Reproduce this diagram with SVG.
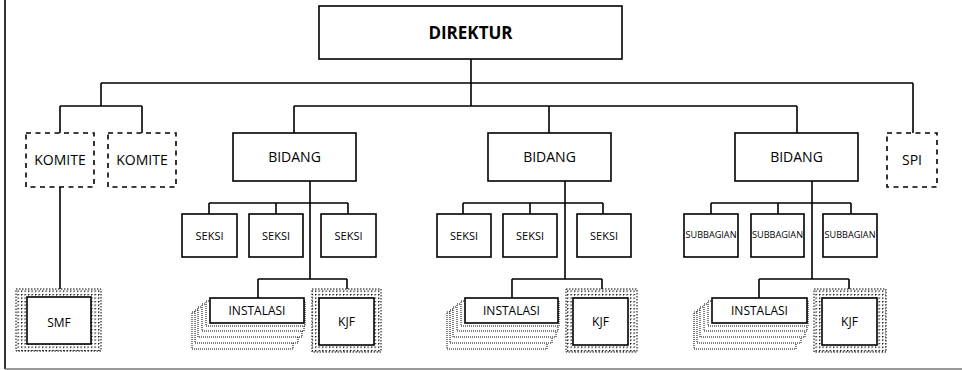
<svg xmlns="http://www.w3.org/2000/svg" width="962" height="370" viewBox="0 0 962 370">
<style>
.box{fill:#fff;stroke:#000;stroke-width:1.6}
.dash{fill:#fff;stroke:#000;stroke-width:1.6;stroke-dasharray:5 4.5}
.ln{fill:none;stroke:#000;stroke-width:1.6}
.stk{fill:#fff;stroke:#000;stroke-width:1;stroke-dasharray:1 1}
.hat{fill:url(#hatch);stroke:#000;stroke-width:1;stroke-dasharray:1.5 1.5}
text{font-family:"Open Sans","Noto Sans",sans-serif;fill:#000;text-anchor:middle}
.t14{font-size:14px}
.t11{font-size:11px}
.t12{font-size:12px}
.t9{font-size:8.5px}
</style>
<defs>
<pattern id="hatch" patternUnits="userSpaceOnUse" width="3.5" height="3.5">
<rect width="3.5" height="3.5" fill="#fff"/>
<rect x="0" y="0" width="1.8" height="0.6" fill="#000"/>
<rect x="0" y="0" width="0.6" height="1.8" fill="#000"/>
</pattern>
</defs>
<rect width="962" height="370" fill="#fff"/>
<g id="frame">
<line x1="5" y1="0" x2="5" y2="369" stroke="#000" stroke-width="1.6"/>
<line x1="5" y1="369" x2="962" y2="369" stroke="#777" stroke-width="1.6"/>
</g>
<g id="connectors">
<path class="ln" d="M471 59V106M101 83H913M294 106H797M294 106V133M549 106V133M797 106V133M913 83V133"/>
<path class="ln" d="M101 83V106M60 106H142M60 106V133M142 106V133M60 187V297"/>
<path class="ln" d="M310 181V279M209 203H348M209 203V214M276 203V214M348 203V214M258 279H347M258 279V298M347 279V298"/>
<path class="ln" d="M565 181V279M463 203H603M463 203V214M530 203V214M603 203V214M512 279H602M512 279V298M602 279V298"/>
<path class="ln" d="M812 181V279M711 203H851M711 203V214M778 203V214M851 203V214M759 279H849M759 279V298M849 279V298"/>
</g>
<g id="direktur"><rect class="box" x="319" y="6" width="303" height="53"/><text x="470.5" y="39" style="font-size:17px;font-weight:bold">DIREKTUR</text></g>
<g id="komite1"><rect class="dash" x="26" y="133" width="68" height="54"/><text class="t14" x="60" y="165">KOMITE</text></g>
<g id="komite2"><rect class="dash" x="108" y="133" width="68" height="54"/><text class="t14" x="142" y="165">KOMITE</text></g>
<g id="spi"><rect class="dash" x="887" y="133" width="50" height="54"/><text class="t14" x="912" y="165">SPI</text></g>
<g id="smf"><rect class="hat" x="16" y="289" width="85" height="62"/><rect class="box" x="27" y="297" width="64" height="47"/><text class="t12" x="59" y="327">SMF</text></g>
<g id="bidang1"><rect class="box" x="233" y="133" width="123" height="48"/><text class="t14" x="294.5" y="162">BIDANG</text></g>
<g id="bidang2"><rect class="box" x="488" y="133" width="123" height="48"/><text class="t14" x="549.5" y="162">BIDANG</text></g>
<g id="bidang3"><rect class="box" x="735" y="133" width="123" height="48"/><text class="t14" x="796.5" y="162">BIDANG</text></g>
<g id="seksi1a"><rect class="box" x="182" y="214" width="55" height="43"/><text class="t11" x="209.5" y="240">SEKSI</text></g>
<g id="seksi1b"><rect class="box" x="249" y="214" width="54" height="43"/><text class="t11" x="276" y="240">SEKSI</text></g>
<g id="seksi1c"><rect class="box" x="321" y="214" width="55" height="43"/><text class="t11" x="348.5" y="240">SEKSI</text></g>
<g id="seksi2a"><rect class="box" x="437" y="214" width="54" height="43"/><text class="t11" x="464" y="240">SEKSI</text></g>
<g id="seksi2b"><rect class="box" x="503" y="214" width="54" height="43"/><text class="t11" x="530" y="240">SEKSI</text></g>
<g id="seksi2c"><rect class="box" x="577" y="214" width="54" height="43"/><text class="t11" x="604" y="240">SEKSI</text></g>
<g id="sub3a"><rect class="box" x="684" y="214" width="54" height="43"/><text class="t9" x="711" y="238" textLength="51" lengthAdjust="spacingAndGlyphs">SUBBAGIAN</text></g>
<g id="sub3b"><rect class="box" x="751" y="214" width="53" height="43"/><text class="t9" x="777.5" y="238" textLength="51" lengthAdjust="spacingAndGlyphs">SUBBAGIAN</text></g>
<g id="sub3c"><rect class="box" x="823" y="214" width="54" height="43"/><text class="t9" x="850" y="238" textLength="51" lengthAdjust="spacingAndGlyphs">SUBBAGIAN</text></g>
<g id="instalasi1">
<rect class="stk" x="192" y="312" width="101" height="37"/>
<rect class="stk" x="195" y="310" width="103" height="33"/>
<rect class="stk" x="198" y="307" width="104" height="30"/>
<rect class="stk" x="202" y="304" width="102" height="27"/>
<rect class="stk" x="206" y="301" width="99" height="25"/>
<rect class="box" x="210" y="298" width="94" height="25"/><text class="t12" x="257" y="315">INSTALASI</text></g>
<g id="kjf1"><rect class="hat" x="312" y="289" width="69" height="63"/><rect class="box" x="319" y="298" width="55" height="47"/><text class="t12" x="346.5" y="326">KJF</text></g>
<g id="instalasi2">
<rect class="stk" x="447" y="312" width="100" height="37"/>
<rect class="stk" x="450" y="310" width="102" height="33"/>
<rect class="stk" x="453" y="307" width="103" height="30"/>
<rect class="stk" x="457" y="304" width="101" height="27"/>
<rect class="stk" x="461" y="301" width="98" height="25"/>
<rect class="box" x="465" y="298" width="93" height="25"/><text class="t12" x="511.5" y="315">INSTALASI</text></g>
<g id="kjf2"><rect class="hat" x="566" y="289" width="71" height="63"/><rect class="box" x="573" y="298" width="55" height="47"/><text class="t12" x="600.5" y="326">KJF</text></g>
<g id="instalasi3">
<rect class="stk" x="694" y="312" width="102" height="37"/>
<rect class="stk" x="697" y="310" width="104" height="33"/>
<rect class="stk" x="700" y="307" width="105" height="30"/>
<rect class="stk" x="704" y="304" width="103" height="27"/>
<rect class="stk" x="708" y="301" width="100" height="25"/>
<rect class="box" x="712" y="298" width="95" height="25"/><text class="t12" x="759.5" y="315">INSTALASI</text></g>
<g id="kjf3"><rect class="hat" x="814" y="289" width="72" height="63"/><rect class="box" x="822" y="298" width="55" height="47"/><text class="t12" x="849.5" y="326">KJF</text></g>
</svg>
